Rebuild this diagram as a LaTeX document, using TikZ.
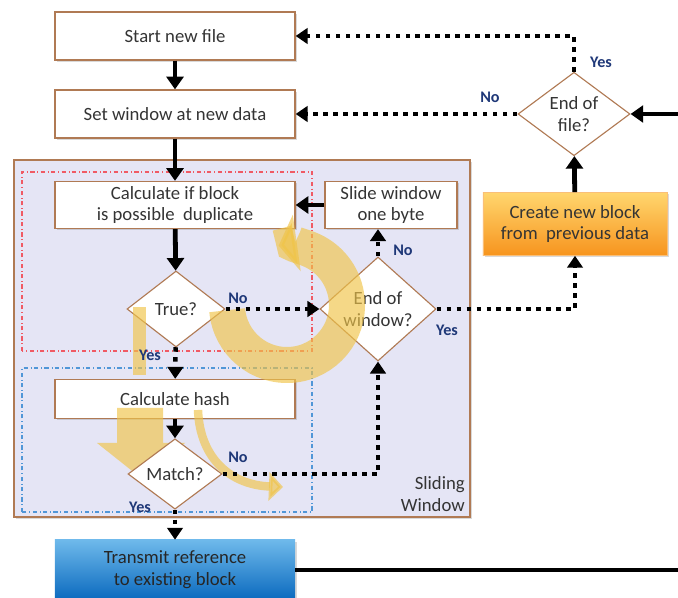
\documentclass[tikz,border=0pt]{standalone}
\usepackage{fontspec}
\setmainfont{Carlito}
\usetikzlibrary{arrows.meta,positioning,shapes.geometric,shadows}
\definecolor{boxbrown}{RGB}{176,122,84}
\definecolor{winfill}{RGB}{229,229,245}
\definecolor{lblnavy}{RGB}{31,56,120}
\definecolor{txtgray}{RGB}{52,52,52}
\definecolor{hiyellow}{RGB}{240,196,72}
\definecolor{redline}{RGB}{240,90,100}
\definecolor{blueline}{RGB}{80,150,215}
\definecolor{orangetop}{RGB}{255,214,110}
\definecolor{orangebot}{RGB}{247,148,30}
\definecolor{bluetop}{RGB}{110,185,235}
\definecolor{bluebot}{RGB}{10,105,190}

\begin{document}
\begin{tikzpicture}[x=0.025cm, y=0.025cm,
    font=\fontsize{13.3}{15.5}\selectfont, text=txtgray,
    procbox/.style={draw=boxbrown, line width=0.9pt, fill=white, align=center,
      minimum width=6cm, inner sep=2pt,
      drop shadow={shadow xshift=1.3pt, shadow yshift=-1.3pt, opacity=0.3}},
    decbox/.style={diamond, draw=boxbrown, line width=0.8pt, fill=white,
      align=center, inner sep=0pt},
    shadebox/.style={align=center, inner sep=2pt,
      drop shadow={shadow xshift=1.3pt, shadow yshift=-1.3pt, opacity=0.3}},
    winbox/.style={draw=boxbrown, line width=0.9pt, fill=winfill,
      drop shadow={shadow xshift=1.5pt, shadow yshift=-1.5pt, opacity=0.3}},
    arr/.style={line width=3.4pt, -{Triangle[width=12pt,length=9pt]}},
    dotarr/.style={line width=3.2pt, dash pattern=on 3.2pt off 3.9pt,
      -{Triangle[width=11pt,length=8.5pt]}},
    yesno/.style={font=\fontsize{11.5}{13}\selectfont\bfseries, text=lblnavy, inner sep=0pt},
    glow/.style={hiyellow, opacity=0.65}]
  \useasboundingbox (0,0) rectangle (678,598);

  % sliding window frame
  \node[winbox, minimum width=11.4cm, minimum height=8.925cm] (win) at (242,259.5) {};
  \node[anchor=south east, align=right, inner sep=0pt] (winlbl) at (465,86) {Sliding\\Window};
  \draw[redline, dash dot, line width=0.8pt] (22,247) rectangle (312,426);
  \draw[blueline, dash dot, line width=0.8pt] (22,86) rectangle (312,230);

  \node[procbox, minimum height=1.2cm] (start) at (175,562) {Start new file};
  \node[procbox, minimum height=1.2cm] (setwin) at (175,484) {Set window at new data};
  \node[decbox, minimum width=2.8cm, minimum height=2.075cm] (eof) at (574,484) {End of\\file?};
  \node[shadebox, top color=orangetop, bottom color=orangebot, draw=orangebot!60,
    minimum width=4.6cm, minimum height=1.575cm] (create) at (575,374)
    {Create new block\\from~ previous data};

  \node[procbox, minimum height=1.175cm] (calcblk) at (175,393) {Calculate if block\\is possible~ duplicate};
  \node[procbox, minimum width=3.3cm, minimum height=1.175cm] (slide) at (391,393) {Slide window\\one byte};
  \node[decbox, minimum width=2.45cm, minimum height=1.9cm] (truedec) at (176,289) {True?};
  \node[decbox, minimum width=2.9cm, minimum height=2.2cm] (eow) at (378,289) {End of\\window?};
  \node[procbox, minimum height=0.975cm] (hash) at (175,199) {Calculate hash};

  % broad highlight arrow under the match test
  \fill[glow] (117,190) -- (163,190) -- (163,155) -- (185,155) -- (141,120)
    -- (97,155) -- (117,155) -- cycle;

  \node[decbox, minimum width=2.35cm, minimum height=1.575cm] (match) at (175,124) {Match?};
  \node[shadebox, top color=bluetop, bottom color=bluebot, minimum width=6cm,
    minimum height=1.5cm, text=black!85] (transmit) at (175,28)
    {Transmit reference\\to existing block};

  % highlight loop
  \draw[glow, line width=25.6pt, -{Triangle[width=40pt,length=13pt]}]
    ([shift={(185:60)}]287,293) arc[start angle=185, end angle=458, radius=60];
  \fill[glow] (133,223) rectangle (146,291);
  \draw[glow, line width=6pt, -{Triangle[width=20pt,length=10pt]}]
    (198,188) .. controls (200,138) and (232,113) .. (283,111);

  \coordinate (rin) at (678,484);
  \coordinate (rout) at (678,28);

  \draw[arr] (start) -- (setwin);
  \draw[arr] (setwin) -- (calcblk);
  \draw[arr] (calcblk) -- (truedec);
  \draw[dotarr] (truedec) -- (eow);
  \draw[dotarr] (truedec) -- (hash);
  \draw[arr] (hash) -- (match);
  \draw[dotarr] (match) -- (transmit);
  \draw[dotarr] (match.east) -| (eow.south);
  \draw[dotarr] (eow.north) -- (eow.north |- slide.south);
  \draw[arr] (slide) -- (calcblk);
  \draw[dotarr] (eow.east) -| (create.south);
  \draw[arr] (create) -- (eof);
  \draw[arr] (rin) -- (eof.east);
  \draw[dotarr] (eof) -- (setwin);
  \draw[dotarr] (eof.north) |- (start.east);
  \draw[line width=3.4pt] (transmit.east) -- (rout);

  \node[yesno] (eofyes) at (601,536) {Yes};
  \node[yesno] (eofno) at (490,501) {No};
  \node[yesno] (trueno) at (238,300) {No};
  \node[yesno] (eowno) at (403,348) {No};
  \node[yesno] (eowyes) at (447,268) {Yes};
  \node[yesno] (trueyes) at (150,243) {Yes};
  \node[yesno] (matchno) at (238,141) {No};
  \node[yesno] (matchyes) at (140,91) {Yes};
\end{tikzpicture}
\end{document}
